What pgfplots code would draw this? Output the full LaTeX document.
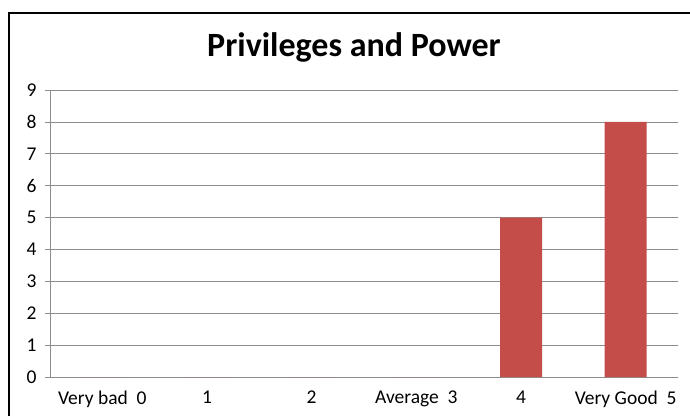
\documentclass[border=0pt]{standalone}
\usepackage{pgfplots}
\pgfplotsset{compat=1.18}
\usepackage{fontspec}
\setmainfont{Carlito}
\definecolor{barred}{RGB}{196,76,73}
\definecolor{gridc}{RGB}{140,140,140}
\begin{document}
\begin{tikzpicture}[x=1pt,y=1pt]
\useasboundingbox (0,0) rectangle (690,416);
\draw[line width=1.6pt] (9,0) -- (9,403) -- (690,403);
\node[font=\fontsize{34}{40}\selectfont\bfseries] at (354,369) {Privileges and Power};
\begin{axis}[
  at={(50pt,39pt)}, anchor=south west,
  scale only axis, width=628pt, height=287pt,
  xmin=-0.5, xmax=5.5, ymin=0, ymax=9,
  axis x line*=bottom, axis y line*=left,
  axis line style={gridc, line width=0.6pt},
  xtick={0,1,2,3,4,5},
  xticklabels={Very bad\ \ 0, 1, 2, Average\ \ 3, 4, Very Good\ \ 5},
  minor xtick={-0.5,0.5,1.5,2.5,3.5,4.5,5.5},
  xtick style={draw=none},
  minor x tick style={gridc, line width=0.6pt},
  minor tick length=5pt,
  ytick={0,1,...,9},
  ytick style={gridc, line width=0.6pt},
  major tick length=5pt,
  tick align=outside,
  ymajorgrids, grid style={gridc, line width=0.6pt},
  /pgf/number format/assume math mode=true,
  tick label style={font=\fontsize{19.5}{21}\selectfont},
  yticklabel style={xshift=-5pt},
  xticklabel style={yshift=-5pt},
  ybar, bar width=42pt,
  clip=false,
]
\addplot[fill=barred, draw=none] coordinates {(0,0) (1,0) (2,0) (3,0) (4,5) (5,8)};
\end{axis}
\end{tikzpicture}
\end{document}
